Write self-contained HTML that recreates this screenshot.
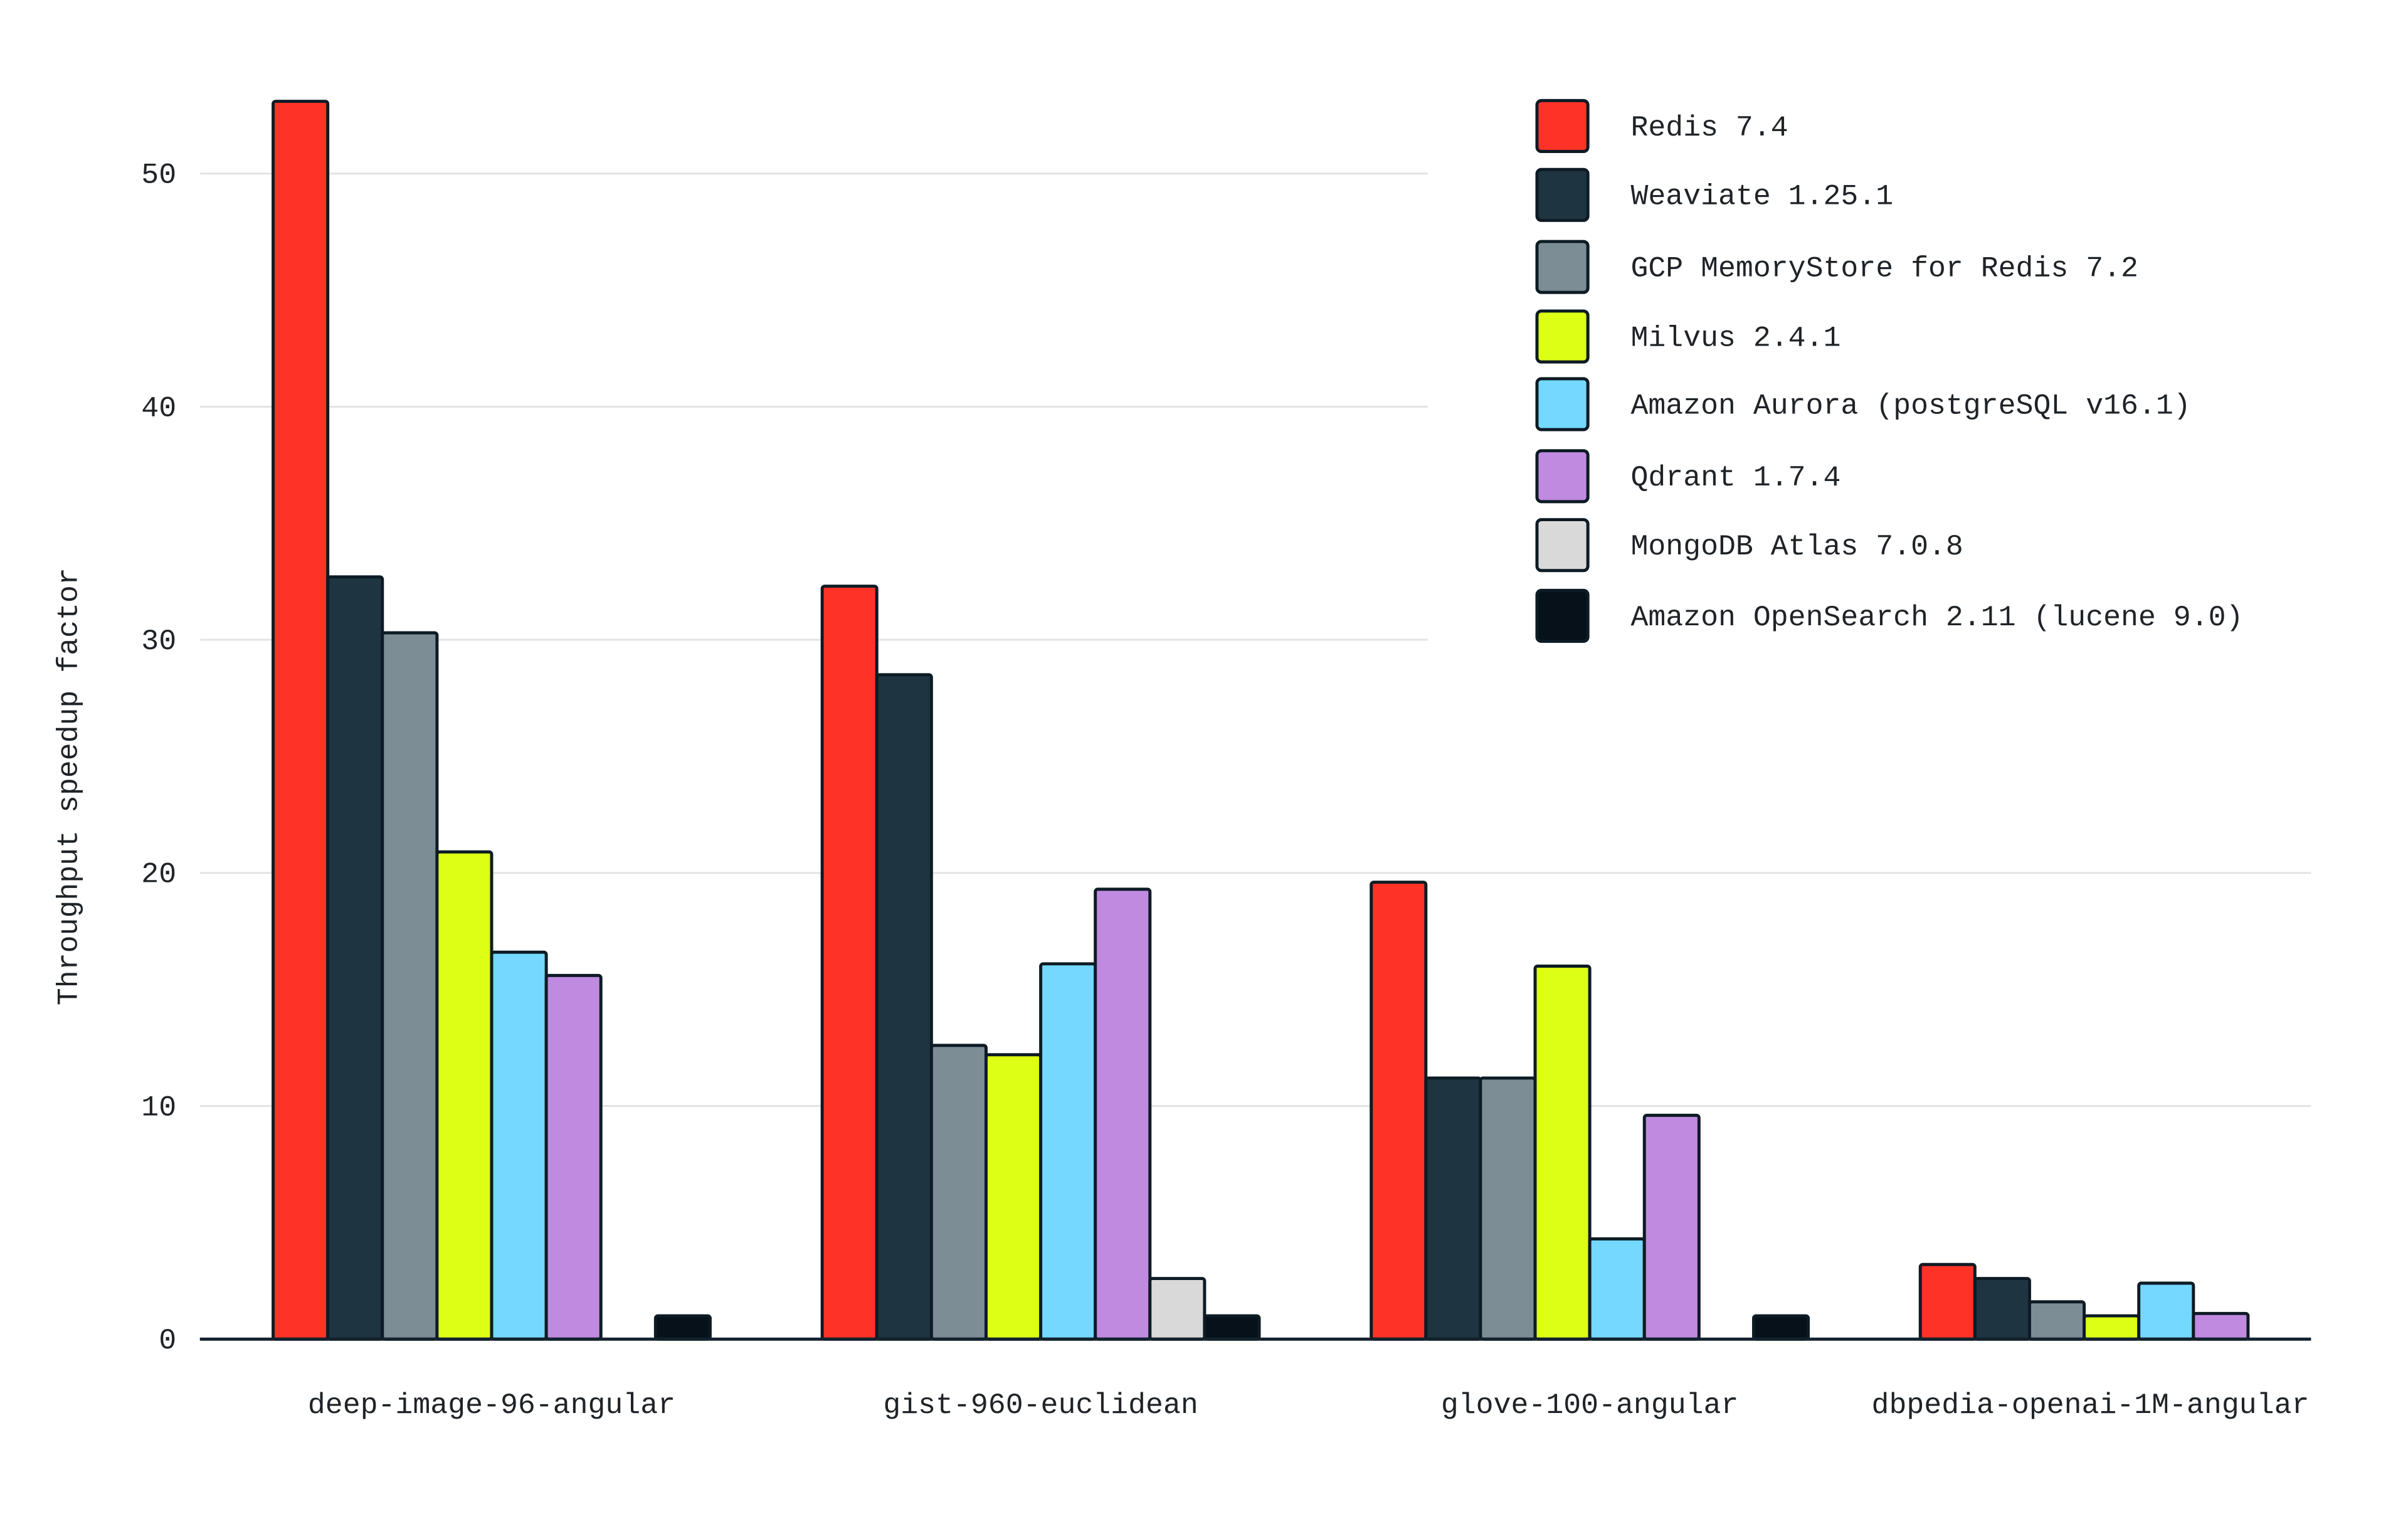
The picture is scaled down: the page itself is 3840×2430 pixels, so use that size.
<!DOCTYPE html>
<html><head><meta charset="utf-8"><style>
html,body{margin:0;padding:0;background:#fff;}
svg{display:block;}
text{font-family:"Liberation Mono",monospace;fill:#1f2327;}
</style></head><body>
<svg id="chart" width="3840" height="2430" viewBox="0 0 3840 2430" xmlns="http://www.w3.org/2000/svg">
<g id="root" transform="scale(0.9899)">
<g id="grid"></g>
<g id="bars"></g>
<g id="axes"></g>
<g id="legend"></g>
<text x="0" y="0" font-size="47" text-anchor="middle" transform="translate(124,1267) rotate(-90)">Throughput speedup factor</text>
</g>
</svg>
<script>
const categories = ["deep-image-96-angular","gist-960-euclidean","glove-100-angular","dbpedia-openai-1M-angular"];
const seriesNames = ["Redis 7.4","Weaviate 1.25.1","GCP MemoryStore for Redis 7.2","Milvus 2.4.1","Amazon Aurora (postgreSQL v16.1)","Qdrant 1.7.4","MongoDB Atlas 7.0.8","Amazon OpenSearch 2.11 (lucene 9.0)"];
const redis = [53.1, 32.3, 19.6, 3.2];
const weaviate = [32.7, 28.5, 11.2, 2.6];
const gcp = [30.3, 12.6, 11.2, 1.6];
const milvus = [20.9, 12.2, 16.0, 1.0];
const aurora = [16.6, 16.1, 4.3, 2.4];
const qdrant = [15.6, 19.3, 9.6, 1.1];
const mongo = [0, 2.6, 0, 0];
const opensearch = [1.0, 1.0, 1.0, 0];
const yTicks = [0, 10, 20, 30, 40, 50];

const series = [redis, weaviate, gcp, milvus, aurora, qdrant, mongo, opensearch];
const colors = ["#ff3227","#1f3441","#7d8d96","#dcff15","#74d8ff","#c08ae0","#d9d9d9","#07111a"];
const NS = "http://www.w3.org/2000/svg";
const y0 = 2157, pxPerUnit = (2157 - 279.6) / 50;
const yScale = v => y0 - v * pxPerUnit;
const groupStart0 = 440, groupStep = 884.5, barW = 88;
const xScale = (g, s) => groupStart0 + g * groupStep + s * barW;
function mk(tag, attrs, parent){const e=document.createElementNS(NS,tag);for(const k in attrs)e.setAttribute(k,attrs[k]);parent.appendChild(e);return e;}

const grid = document.getElementById('grid');
const axes = document.getElementById('axes');
yTicks.forEach(t => {
  const y = yScale(t);
  if (t > 0) {
    const x2 = t >= 30 ? 2300 : 3723;
    const l = mk('line', {x1:322, x2:x2, y1:y, y2:y, stroke:'#e3e3e3', 'stroke-width':3}, grid);
    
    
  }
  const tx = mk('text', {x:284, y:y+15, 'font-size':47, 'text-anchor':'end'}, axes);
  tx.textContent = t;
  
  
});

const bars = document.getElementById('bars');
categories.forEach((c, g) => {
  series.forEach((vals, s) => {
    const v = vals[g];
    if (v <= 0) return;
    const x = xScale(g, s), y = yScale(v);
    const r = mk('rect', {x:x, y:y, width:barW, height:y0 - y, rx:4, fill:colors[s], stroke:'#0d1b24', 'stroke-width':5}, bars);
    
    
  });
  const last = g === categories.length - 1;
  const lbl = mk('text', {x: last ? 3720 : xScale(g, 4), y:2276, 'font-size':47, 'text-anchor': last ? 'end' : 'middle'}, axes);
  lbl.textContent = c;
  
  
});
const base = mk('line', {x1:322, x2:3723, y1:y0, y2:y0, stroke:'#13222d', 'stroke-width':5}, axes);



const legend = document.getElementById('legend');
const legendY = [203, 314, 430, 542, 651, 767, 878, 992];
seriesNames.forEach((n, i) => {
  const cy = legendY[i];
  const sw = mk('rect', {x:2476, y:cy-41, width:82, height:82, rx:7, fill:colors[i], stroke:'#0d1b24', 'stroke-width':5}, legend);
  
  
  const t = mk('text', {x:2627, y:cy+15, 'font-size':47}, legend);
  t.textContent = n;
  
  
});
</script>
</body></html>
